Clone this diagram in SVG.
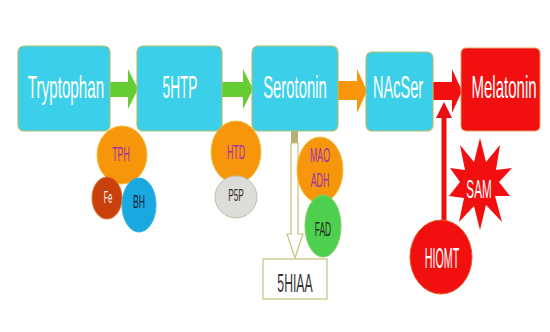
<svg xmlns="http://www.w3.org/2000/svg" width="550" height="332" viewBox="0 0 550 332">
<style>
.box{fill:#3ccfe9;stroke:#b0c070;stroke-width:1.2}
.red{fill:#f20f0f;stroke:#e0a060;stroke-width:1}
text{font-family:"Liberation Sans",Arial,sans-serif;text-anchor:middle}
.big{font-size:31px;fill:#ffffff}
.enz{fill:#f7960a;stroke:#f0c040;stroke-width:1}
.pur{fill:#a030b0;font-size:21px}
</style>
<rect width="550" height="332" fill="#ffffff"/>
<g id="connectors">
  <polygon points="110,82 128,82 128,69 138,89 128,109 128,97 110,97" fill="#66cc33"/>
  <polygon points="222,82 243,82 243,69 253,89 243,109 243,97 222,97" fill="#66cc33"/>
  <polygon points="337,81 357,81 357,69 367,91 357,113 357,100 337,100" fill="#f7960a"/>
  <polygon points="433,82 452,82 452,69 462,91 452,113 452,100 433,100" fill="#f20f0f"/>
  <rect x="291" y="131" width="7" height="12" fill="#b8b070"/>
  <polygon points="291,143 291,234 287,234 295,258 303,234 298,234 298,143" fill="#ffffff" stroke="#c8c080" stroke-width="1.2"/>
  <line x1="444" y1="222" x2="444" y2="114" stroke="#e81010" stroke-width="5"/>
  <polygon points="436,118 452,118 444,102" fill="#e81010"/>
</g>
<g id="tryptophan"><rect class="box" x="18" y="46" width="92" height="85" rx="6"/><text class="big" transform="translate(66,98) scale(0.49,1)">Tryptophan</text></g>
<g id="5htp"><rect class="box" x="137" y="46" width="85" height="85" rx="6"/><text class="big" transform="translate(180,98) scale(0.44,1)">5HTP</text></g>
<g id="serotonin"><rect class="box" x="252" y="46" width="86" height="85" rx="6"/><text class="big" transform="translate(295,98) scale(0.48,1)">Serotonin</text></g>
<g id="nacser"><rect class="box" x="366" y="52" width="67" height="79" rx="6"/><text class="big" transform="translate(398,98) scale(0.47,1)">NAcSer</text></g>
<g id="melatonin"><rect class="red" x="461" y="48" width="79" height="83" rx="5"/><text class="big" transform="translate(504,98) scale(0.485,1)">Melatonin</text></g>
<g id="tph"><ellipse class="enz" cx="122" cy="155" rx="25" ry="29"/><text class="pur" transform="translate(121,161) scale(0.42,1)">TPH</text></g>
<g id="fe"><ellipse cx="107" cy="198" rx="15" ry="21" fill="#c8400c" stroke="#e07030"/><text transform="translate(108,203) scale(0.45,1)" font-size="16" fill="#ffffff">Fe</text></g>
<g id="bh"><ellipse cx="139" cy="205" rx="17" ry="27" fill="#1aa8e0" stroke="#30b0e0"/><text transform="translate(139,208) scale(0.48,1)" font-size="18" fill="#1a2040">BH</text></g>
<g id="htd"><ellipse class="enz" cx="236" cy="152" rx="25" ry="31"/><text class="pur" transform="translate(236,159) scale(0.42,1)">HTD</text></g>
<g id="p5p"><ellipse cx="236" cy="197" rx="21" ry="21" fill="#dcdcd8" stroke="#c0c0b0"/><text transform="translate(236,201) scale(0.52,1)" font-size="16" fill="#303030">P5P</text></g>
<g id="maoadh"><ellipse class="enz" cx="320" cy="170" rx="23" ry="33"/><text class="pur" font-size="19" transform="translate(320,162) scale(0.42,1)">MAO</text><text class="pur" font-size="19" transform="translate(320,187) scale(0.42,1)">ADH</text></g>
<g id="fad"><ellipse cx="323" cy="226" rx="18" ry="31" fill="#4fcf4f" stroke="#80d060"/><text transform="translate(323,236) scale(0.4,1)" font-size="21" fill="#203020">FAD</text></g>
<g id="5hiaa"><rect x="263" y="259" width="64" height="40" fill="#ffffff" stroke="#c8c080" stroke-width="1.2"/><text transform="translate(295,292) scale(0.47,1)" font-size="26" fill="#333333">5HIAA</text></g>
<g id="sam"><polygon fill="#f20f0f" points="480,138 486,162 500,145 496,170 512,168 499,182 510,196 495,196 502,222 486,205 480,230 474,206 459,222 464,198 449,196 460,182 450,168 465,170 460,145 474,162"/><text transform="translate(479,198) scale(0.45,1)" font-size="26" fill="#ffffff">SAM</text></g>
<g id="hiomt"><ellipse cx="441" cy="257" rx="31" ry="37" fill="#f20f0f" stroke="#e06030"/><text transform="translate(442,268) scale(0.37,1)" font-size="29" fill="#ffffff">HIOMT</text></g>
</svg>
